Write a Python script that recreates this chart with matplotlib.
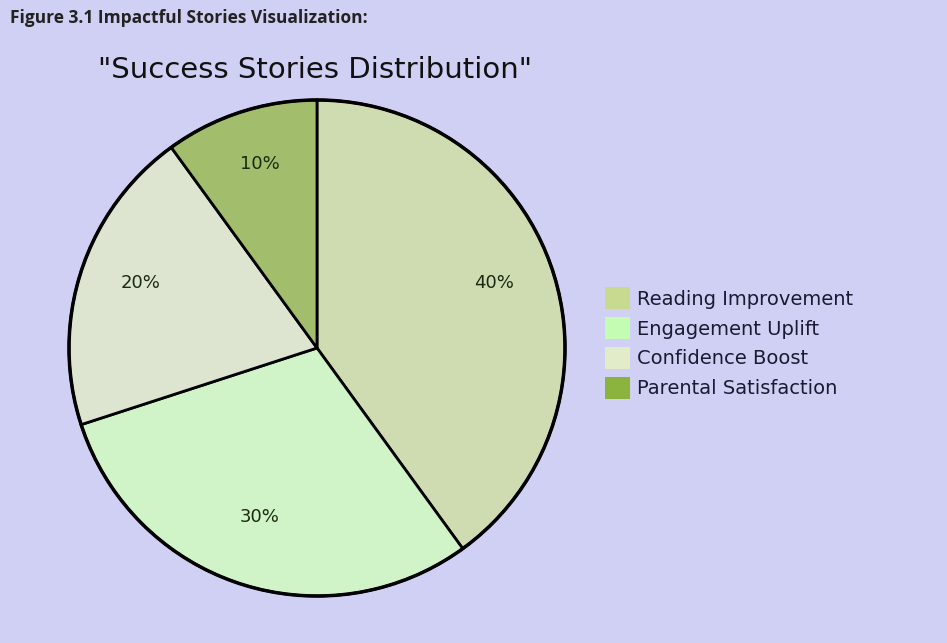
import matplotlib.pyplot as plt
from matplotlib.patches import Patch

labels = ['Reading Improvement', 'Engagement Uplift', 'Confidence Boost', 'Parental Satisfaction']
values = [40, 30, 20, 10]
pie_colors = ['#cfdcb2', '#d0f4c8', '#dde5d0', '#a2bd6c']
legend_colors = ['#c8da90', '#c4fcb4', '#e2ecc8', '#8ab43e']
bg = '#d0d0f4'

fig = plt.figure(figsize=(9.47, 6.43), dpi=100, facecolor=bg)

# pie axes placed so the circle sits at the left like the reference
ax = fig.add_axes([69 / 947, 1 - 596 / 643, 496 / 947, 496 / 643])
ax.set_facecolor(bg)
wedges, texts, autotexts = ax.pie(values, colors=pie_colors, startangle=90, counterclock=False,
                                  autopct='%1.0f%%', pctdistance=0.75,
                                  wedgeprops={'edgecolor': 'black', 'linewidth': 2},
                                  textprops={'fontsize': 13, 'color': '#1a2a10'})
ax.set_xlim(-1, 1)
ax.set_ylim(-1, 1)
ax.set_aspect('equal')
for w in wedges:
    w.set_clip_on(False)
# labels sit slightly higher in the reference
for t in autotexts:
    x, y = t.get_position()
    t.set_position((x, y + 0.03))

# outer rim a bit heavier
circle = plt.Circle((0, 0), 1, fill=False, edgecolor='black', linewidth=2.5, clip_on=False)
ax.add_patch(circle)

fig.text(315 / 947, 1 - 70 / 643, '"Success Stories Distribution"', ha='center', va='center',
         fontsize=21, color='#111111')
fig.text(10 / 947, 1 - 18 / 643, 'Figure 3.1 Impactful Stories Visualization:', ha='left', va='center',
         fontsize=12.5, fontweight='bold', family='Open Sans', color='#222222')

handles = [Patch(facecolor=c, edgecolor='none') for c in legend_colors]
fig.legend(handles, labels, loc='center left', bbox_to_anchor=(587 / 947, 1 - 343 / 643),
           frameon=False, fontsize=14, handlelength=1.3, handleheight=1.3, handletextpad=0.35,
           labelspacing=0.45, labelcolor='#1a1a33')

fig.savefig('out.png', dpi=100, facecolor=bg)
